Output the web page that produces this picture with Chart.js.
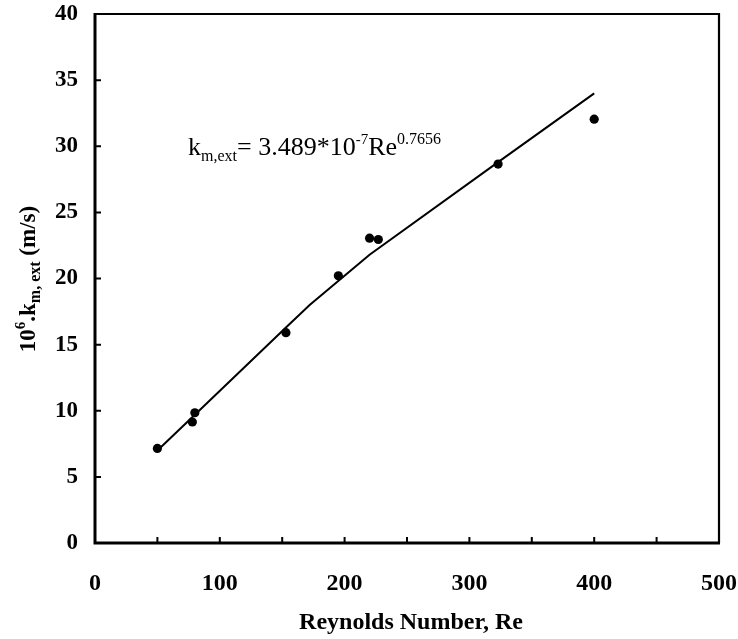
<!DOCTYPE html>
<html>
<head>
<meta charset="utf-8">
<script src="https://cdn.jsdelivr.net/npm/chart.js@4.4.1/dist/chart.umd.min.js"></script>
<style>
  html, body { margin: 0; padding: 0; background: #fff; }
  #wrap { width: 738px; height: 639px; position: relative; }
</style>
</head>
<body>
<div id="wrap"><canvas id="main-chart"></canvas></div>
<script>
// measured points (Re, 10^6 * k_m,ext)
const reynolds = [50, 78, 80, 153, 195, 220, 227, 323, 400];
const kmExt = [7.15, 9.15, 9.85, 15.9, 20.2, 23.05, 22.95, 28.65, 32.05];

// fitted curve as drawn in the figure
const fitRe = [50, 80, 153, 172, 220, 323, 400];
const fitKm = [7.0, 9.7, 16.3, 18.0, 21.8, 28.8, 34.0];

const xTicks = [0, 50, 100, 150, 200, 250, 300, 350, 400, 450, 500];
const yTicks = [0, 5, 10, 15, 20, 25, 30, 35, 40];

const SERIF = "'Liberation Serif', 'Times New Roman', serif";

function drawRich(ctx, parts, x, y) {
  let cx = x;
  for (const p of parts) {
    ctx.font = `${p.bold ? 'bold ' : ''}${p.size}px ${SERIF}`;
    ctx.fillText(p.t, cx, y + (p.dy || 0));
    cx += ctx.measureText(p.t).width;
  }
  return cx - x;
}

function richWidth(ctx, parts) {
  let w = 0;
  for (const p of parts) {
    ctx.font = `${p.bold ? 'bold ' : ''}${p.size}px ${SERIF}`;
    w += ctx.measureText(p.t).width;
  }
  return w;
}

const framePlugin = {
  id: 'frame',
  afterDraw(chart) {
    const { ctx, chartArea: a, scales } = chart;
    ctx.save();
    ctx.strokeStyle = '#000';
    ctx.fillStyle = '#000';

    // box: top/right thinner, left/bottom axes heavier
    ctx.lineWidth = 2.2;
    ctx.beginPath();
    ctx.moveTo(a.left, a.top);
    ctx.lineTo(a.right, a.top);
    ctx.lineTo(a.right, a.bottom);
    ctx.stroke();
    ctx.lineWidth = 3;
    ctx.beginPath();
    ctx.moveTo(a.left, a.top - 1);
    ctx.lineTo(a.left, a.bottom);
    ctx.lineTo(a.right + 1, a.bottom);
    ctx.stroke();

    // inward ticks
    ctx.lineWidth = 2;
    ctx.beginPath();
    xTicks.forEach(v => {
      const px = scales.x.getPixelForValue(v);
      ctx.moveTo(px, a.bottom);
      ctx.lineTo(px, a.bottom - 6);
    });
    yTicks.forEach(v => {
      const py = scales.y.getPixelForValue(v);
      ctx.moveTo(a.left, py);
      ctx.lineTo(a.left + 6, py);
    });
    ctx.stroke();

    ctx.textBaseline = 'alphabetic';
    ctx.textAlign = 'left';

    // x title
    ctx.font = `bold 24px ${SERIF}`;
    ctx.textAlign = 'center';
    ctx.fillText('Reynolds Number, Re', 411, 629);
    ctx.textAlign = 'left';

    // y title (rotated)
    const yTitle = [
      { t: '10', size: 23, bold: true },
      { t: '6', size: 15, bold: true, dy: -10 },
      { t: '.k', size: 23, bold: true },
      { t: 'm, ext', size: 16, bold: true, dy: 5 },
      { t: ' (m/s)', size: 23, bold: true },
    ];
    const tw = richWidth(ctx, yTitle);
    ctx.save();
    ctx.translate(35, 279);
    ctx.rotate(-Math.PI / 2);
    drawRich(ctx, yTitle, -tw / 2, 0);
    ctx.restore();

    // equation
    const eq = [
      { t: 'k', size: 26 },
      { t: 'm,ext', size: 16, dy: 6 },
      { t: '= 3.489*10', size: 26 },
      { t: '-7', size: 15, dy: -11 },
      { t: 'Re', size: 26 },
      { t: '0.7656', size: 16, dy: -11 },
    ];
    drawRich(ctx, eq, scales.x.getPixelForValue(74.5), scales.y.getPixelForValue(29.35));

    ctx.restore();
  }
};

new Chart(document.getElementById('main-chart'), {
  type: 'scatter',
  data: {
    datasets: [
      {
        label: 'points',
        data: reynolds.map((r, i) => ({ x: r, y: kmExt[i] })),
        pointRadius: 4.6,
        pointBackgroundColor: '#000',
        pointBorderWidth: 0,
        order: 0,
      },
      {
        label: 'fit',
        data: fitRe.map((r, i) => ({ x: r, y: fitKm[i] })),
        showLine: true,
        borderColor: '#000',
        borderWidth: 2,
        pointRadius: 0,
        tension: 0,
        order: 1,
      },
    ]
  },
  options: {
    responsive: true,
    maintainAspectRatio: false,
    animation: false,
    layout: { padding: { left: 0, right: 19, top: 14, bottom: 0 } },
    plugins: { legend: { display: false }, tooltip: { enabled: false } },
    scales: {
      x: {
        type: 'linear',
        min: 0,
        max: 500,
        ticks: {
          stepSize: 100,
          color: '#000',
          padding: 26,
          font: { family: SERIF, size: 24, weight: 'bold' },
        },
        grid: { display: false, drawTicks: false },
        border: { display: false },
        afterFit: (s) => {
          s.height = 96;
          s.paddingLeft = 0;
          s.paddingRight = 0;
        },
      },
      y: {
        type: 'linear',
        min: 0,
        max: 40,
        ticks: {
          stepSize: 5,
          color: '#000',
          padding: 17,
          font: { family: SERIF, size: 23, weight: 'bold' },
        },
        grid: { display: false, drawTicks: false },
        border: { display: false },
        afterFit: (s) => {
          s.width = 95;
          s.paddingTop = 0;
          s.paddingBottom = 0;
        },
      },
    },
  },
  plugins: [framePlugin],
});
</script>
</body>
</html>
